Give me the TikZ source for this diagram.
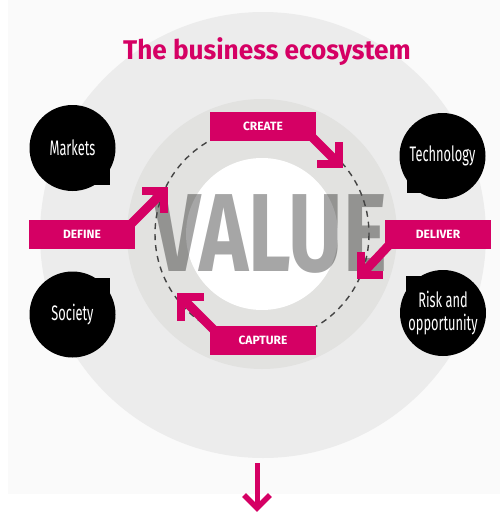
\documentclass[tikz,border=0pt]{standalone}
\usepackage{fontspec}
\setmainfont{Fira Sans}
\newfontfamily\titlefont[FakeStretch=0.97]{Fira Sans}
\newfontfamily\condfont[FakeStretch=0.61]{Fira Sans}
\newfontfamily\valuefont[FakeStretch=0.75]{Fira Sans}
\usetikzlibrary{calc,positioning}
\definecolor{vpink}{HTML}{D50064}
\definecolor{bgpaper}{HTML}{FAFAFA}
\definecolor{outerring}{HTML}{ECECEC}
\definecolor{innerring}{HTML}{E2E2E0}
\definecolor{dashgray}{HTML}{444444}
\begin{document}
\begin{tikzpicture}[x=1pt,y=-1pt,
  pinkbox/.style={rectangle,fill=vpink,text=white,minimum width=106pt,minimum height=29pt,inner sep=0pt,
    font=\bfseries\fontsize{12}{14}\selectfont},
  bubble/.style={circle,fill=black,text=white,minimum size=86pt,inner sep=0pt,align=center,
    font=\condfont\fontsize{21}{23}\selectfont},
  shaft/.style={draw=vpink,line width=9pt},
  chev/.style={draw=vpink,line width=8pt,line join=miter}]
  \useasboundingbox (0,0) rectangle (500,512);
  % paper and rings
  \fill[bgpaper] (8,0) rectangle (500,494);
  \fill[outerring] (263,235) circle[radius=223];
  \fill[innerring] (262,234) circle[radius=135];
  \fill[white] (262,234) circle[radius=76];
  \node[text=black,text opacity=0.35,inner sep=0pt,font=\valuefont\bfseries\fontsize{111}{111}\selectfont]
    (value) at (270,234) {VALUE};
  \draw[dashgray,line width=1.4pt,dash pattern=on 6pt off 5pt] (262,234) circle[radius=107];
  % the four surroundings
  \foreach \n/\x/\y/\dx/\dy/\t in {markets/72.5/148/37/37/Markets, technology/442.5/156/-36/37/Technology,
      society/72.5/314.5/37/-37/Society, risk/443/313/-37/-37/{Risk and\\opportunity}} {
    \fill (\x,\y) rectangle ++(\dx,\dy); \node[bubble] (\n) at (\x,\y) {\t}; }
  % the value cycle
  \node[pinkbox] (create) at (263,126.5) {CREATE};
  \node[pinkbox] (define) at (82,234.5) {DEFINE};
  \node[pinkbox] (deliver) at (438,234.5) {DELIVER};
  \node[pinkbox] (capture) at (263,340.5) {CAPTURE};
  \coordinate (crtip) at (339,164); \coordinate (detip) at (164,191);
  \coordinate (dltip) at (361,275); \coordinate (catip) at (181,297);
  \draw[shaft] ($(create.south east)+(-6,-6)$) -- (crtip);
  \draw[chev] ($(crtip)+(0,-22)$) -- (crtip) -- ++(-22,0);
  \draw[shaft] ($(define.north east)+(-6,6)$) -- (detip);
  \draw[chev] ($(detip)+(-22,0)$) -- (detip) -- ++(0,22);
  \draw[shaft] ($(deliver.south west)+(6,-6)$) -- (dltip);
  \draw[chev] ($(dltip)+(0,-23)$) -- (dltip) -- ++(22,0);
  \draw[shaft] ($(capture.north west)+(6,6)$) -- (catip);
  \draw[chev] ($(catip)+(23,0)$) -- (catip) -- ++(0,24);
  \node[text=vpink,font=\titlefont\bfseries\fontsize{27}{30}\selectfont] (title) at (267,52) {The business ecosystem};
  \coordinate (downstart) at (257,463); \coordinate (downtip) at (257,508);
  \draw[vpink,line width=5pt] (downstart) -- (downtip);
  \draw[vpink,line width=5.5pt,line join=miter] ($(downtip)+(-13,-13)$) -- (downtip) -- ++(13,-13);
\end{tikzpicture}
\end{document}
